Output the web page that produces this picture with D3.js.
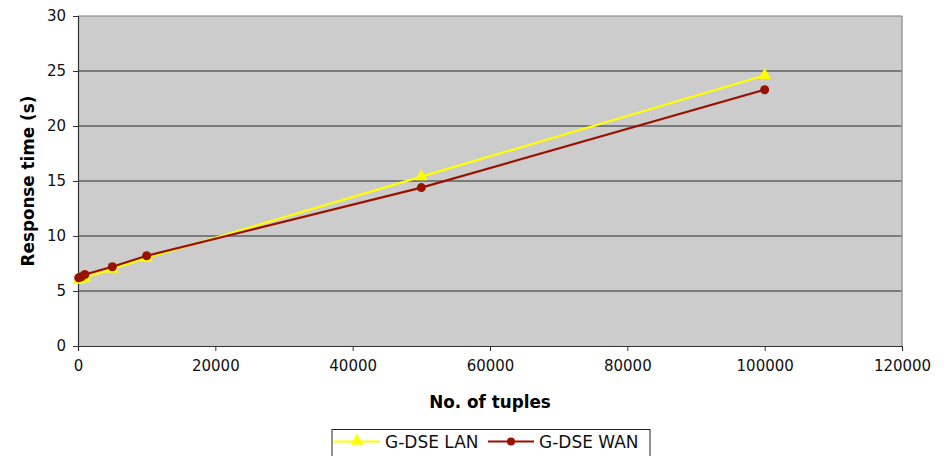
<!DOCTYPE html>
<html><head><meta charset="utf-8">
<script src="https://cdn.jsdelivr.net/npm/d3@7"></script>
<style>body{margin:0;background:#fff;} svg{display:block;font-family:"DejaVu Sans",Verdana,sans-serif;}</style>
</head><body>
<svg id="c" width="950" height="456"></svg>
<script>
const tuples = [100, 500, 1000, 5000, 10000, 50000, 100000];
const lanTimes = [6.0, 6.1, 6.2, 7.0, 8.0, 15.4, 24.6];
const wanTimes = [6.2, 6.3, 6.5, 7.2, 8.2, 14.4, 23.3];
const xTicks = [0, 20000, 40000, 60000, 80000, 100000, 120000];
const yTicks = [0, 5, 10, 15, 20, 25, 30];
const seriesNames = ["G-DSE LAN", "G-DSE WAN"];

const svg = d3.select("#c");
const L = 78, R = 902, T = 16, B = 346;
const x = d3.scaleLinear().domain([0, 120000]).range([L, R]);
const y = d3.scaleLinear().domain([0, 30]).range([B, T]);

svg.append("rect").attr("x", L).attr("y", T).attr("width", R - L).attr("height", B - T).attr("fill", "#cccccc");
// gridlines
svg.append("g").selectAll("line").data(yTicks.filter(d => d > 0)).join("line")
  .attr("x1", L).attr("x2", R).attr("y1", d => y(d)).attr("y2", d => y(d))
  .attr("stroke", d => d === 30 ? "#808080" : "#2a2a2a").attr("stroke-width", 1.2);
// right border
svg.append("line").attr("x1", R).attr("x2", R).attr("y1", T).attr("y2", B).attr("stroke", "#999").attr("stroke-width", 1.5);

const yAxis = svg.append("g").attr("transform", `translate(${L},0)`)
  .call(d3.axisLeft(y).tickValues(yTicks).tickSize(5).tickPadding(7).tickFormat(d3.format("d")));
const xAxis = svg.append("g").attr("transform", `translate(0,${B})`)
  .call(d3.axisBottom(x).tickValues(xTicks).tickSize(5).tickPadding(9).tickFormat(d3.format("d")));
[yAxis, xAxis].forEach(g => {
  g.select(".domain").attr("stroke", "#333").attr("stroke-width", 1.2);
  g.selectAll(".tick line").attr("stroke", "#333");
  g.selectAll("text").attr("font-size", 15).attr("fill", "#111").attr("font-family", "DejaVu Sans");
});

svg.append("text").attr("x", 490).attr("y", 408).attr("text-anchor", "middle")
  .attr("font-size", 16.8).attr("font-weight", "bold").text("No. of tuples");
svg.append("text").attr("transform", "translate(34,181) rotate(-90)").attr("text-anchor", "middle")
  .attr("font-size", 16.8).attr("font-weight", "bold").text("Response time (s)");

const line = d3.line().x(d => x(d[0])).y(d => y(d[1]));
const lan = tuples.map((t, i) => [t, lanTimes[i]]);
const wan = tuples.map((t, i) => [t, wanTimes[i]]);
const LANC = "#ffff00", WANC = "#991100";
const tri = d3.symbol().type(d3.symbolTriangle).size(70);

svg.append("path").datum(lan).attr("d", line).attr("fill", "none").attr("stroke", LANC).attr("stroke-width", 2.2);
svg.append("g").selectAll("path").data(lan).join("path")
  .attr("transform", d => `translate(${x(d[0])},${y(d[1])})`).attr("d", tri).attr("fill", LANC);
svg.append("path").datum(wan).attr("d", line).attr("fill", "none").attr("stroke", WANC).attr("stroke-width", 2.2);
svg.append("g").selectAll("circle").data(wan).join("circle")
  .attr("cx", d => x(d[0])).attr("cy", d => y(d[1])).attr("r", 4.5).attr("fill", WANC);

// legend
const lg = svg.append("g");
lg.append("rect").attr("x", 332).attr("y", 429.5).attr("width", 318).attr("height", 34)
  .attr("fill", "#fff").attr("stroke", "#222").attr("stroke-width", 1);
const items = [{name: seriesNames[0], c: LANC, x0: 334, m: "tri"}, {name: seriesNames[1], c: WANC, x0: 488, m: "circ"}];
items.forEach(it => {
  lg.append("line").attr("x1", it.x0).attr("x2", it.x0 + 46).attr("y1", 441.5).attr("y2", 441.5).attr("stroke", it.c).attr("stroke-width", 2);
  if (it.m === "tri") lg.append("path").attr("transform", `translate(${it.x0 + 23},441)`).attr("d", tri).attr("fill", it.c);
  else lg.append("circle").attr("cx", it.x0 + 23).attr("cy", 441.5).attr("r", 4).attr("fill", it.c);
  lg.append("text").attr("x", it.x0 + 51).attr("y", 448).attr("font-size", 17).attr("fill", "#111").text(it.name);
});
</script>
</body></html>
